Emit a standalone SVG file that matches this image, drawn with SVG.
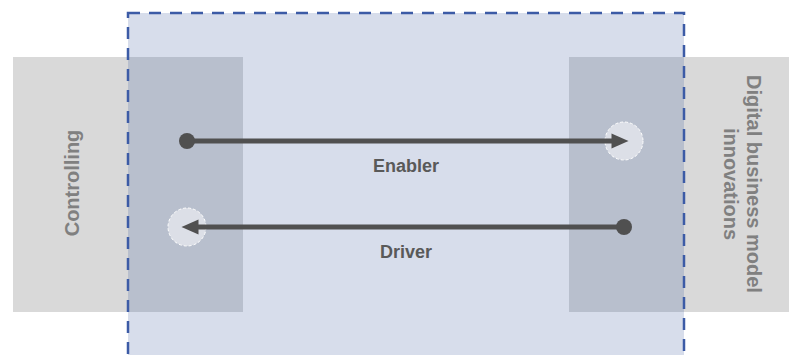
<svg xmlns="http://www.w3.org/2000/svg" width="789" height="355" viewBox="0 0 789 355">
  <defs>
    <style>
      .side { fill: #d9d9d9; }
      .overlap { fill: #b8bfcd; }
      .frame-fill { fill: #d7ddeb; }
      .frame-edge { fill: none; stroke: #3c5ba6; stroke-width: 2.5; stroke-dasharray: 12 9; }
      .side-label { font-family: "Liberation Sans", Arial, sans-serif; font-weight: bold; font-size: 20px; fill: #808080; text-anchor: middle; }
      .flow-label { font-family: "Liberation Sans", Arial, sans-serif; font-weight: bold; font-size: 18px; fill: #595959; text-anchor: middle; }
      .flow { stroke: #505050; stroke-width: 5; fill: none; }
      .head { fill: #505050; }
      .target { fill: #dcdfe7; stroke: #ffffff; stroke-width: 1; stroke-dasharray: 3 2; }
    </style>
  </defs>

  <!-- shared area between the two domains -->
  <g id="frame">
    <rect class="frame-fill" x="128" y="13" width="556" height="360"/>
  </g>

  <g id="controlling">
    <rect class="side" x="13" y="57" width="230" height="255"/>
    <rect class="overlap" x="128" y="57" width="115" height="255"/>
    <text class="side-label" transform="translate(79,183) rotate(-90)">Controlling</text>
  </g>

  <g id="dbmi">
    <rect class="side" x="569" y="57" width="220" height="255"/>
    <rect class="overlap" x="569" y="57" width="115" height="255"/>
    <text class="side-label" transform="translate(747,184) rotate(90)">Digital business model</text>
    <text class="side-label" transform="translate(724,184) rotate(90)">innovations</text>
  </g>

  <g id="frame-outline">
    <rect class="frame-edge" x="128" y="13" width="556" height="360"/>
  </g>

  <g id="connectors">
    <!-- Enabler: Controlling -> Digital business model innovations -->
    <g id="enabler">
      <circle class="target" cx="624" cy="141" r="19"/>
      <line class="flow" x1="187" y1="141" x2="613" y2="141"/>
      <circle class="head" cx="187" cy="141" r="8"/>
      <polygon class="head" points="611.5,133.5 628.5,141 611.5,148.5"/>
      <text class="flow-label" x="406" y="172">Enabler</text>
    </g>
    <!-- Driver: Digital business model innovations -> Controlling -->
    <g id="driver">
      <circle class="target" cx="187" cy="227" r="19"/>
      <line class="flow" x1="624" y1="227" x2="197" y2="227"/>
      <circle class="head" cx="624" cy="227" r="8"/>
      <polygon class="head" points="198.5,219.5 181.5,227 198.5,234.5"/>
      <text class="flow-label" x="406" y="258">Driver</text>
    </g>
  </g>
</svg>
